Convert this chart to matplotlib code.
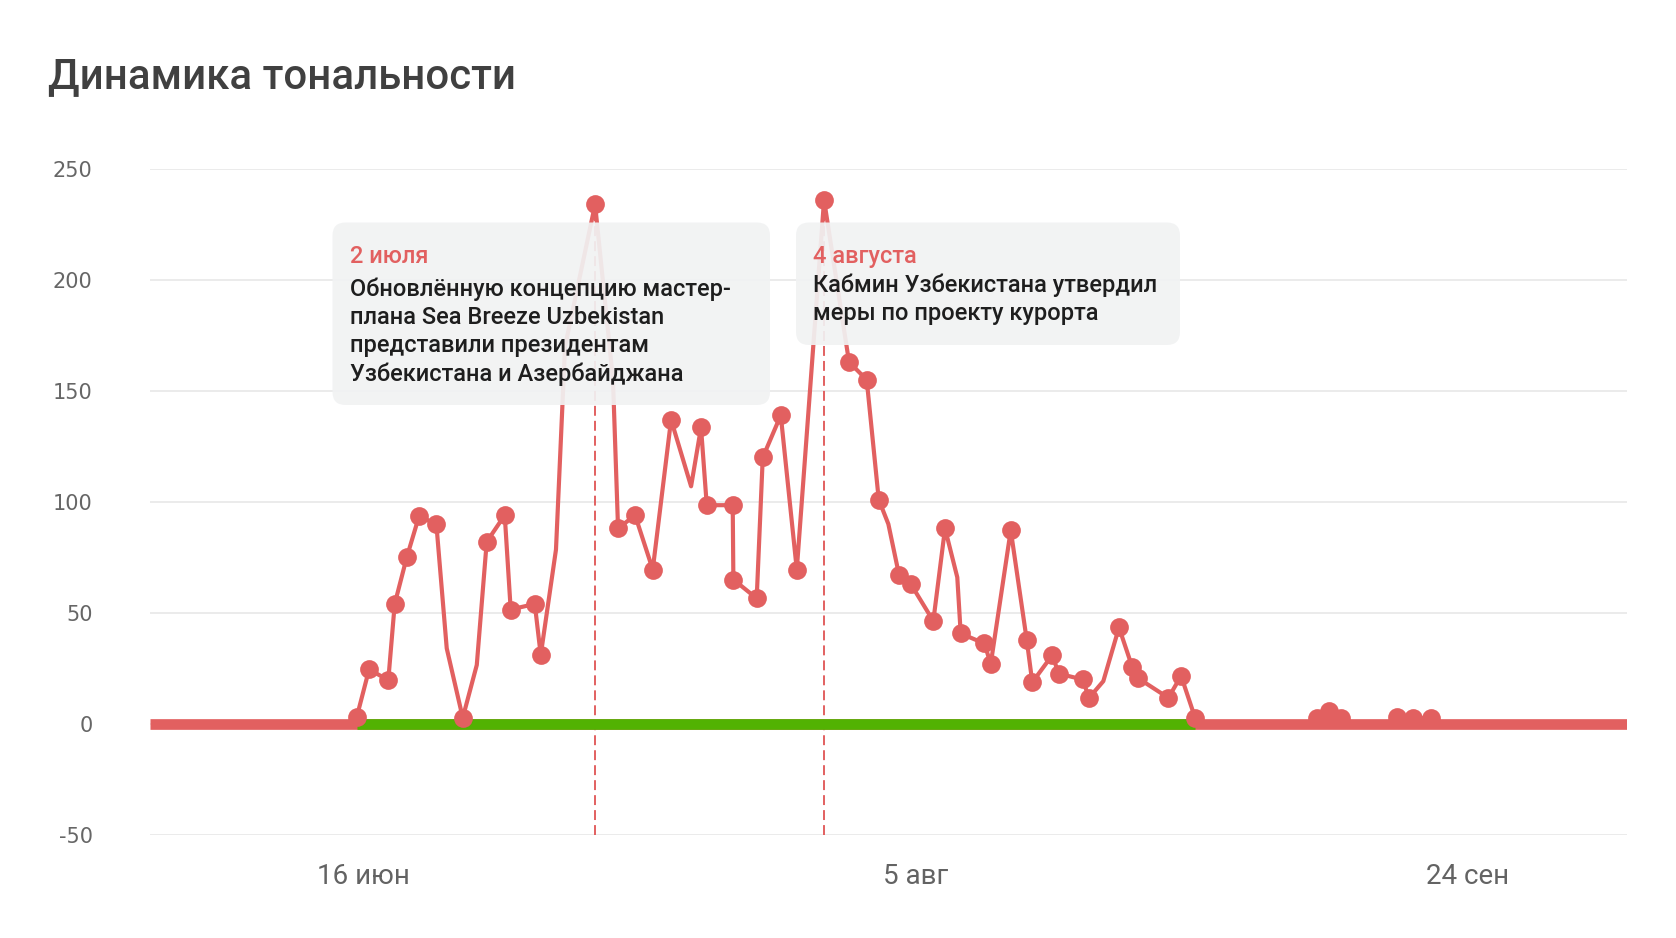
import matplotlib
matplotlib.use("Agg")
import matplotlib.pyplot as plt
from matplotlib.patches import FancyBboxPatch
from matplotlib.transforms import IdentityTransform

# ---------------- data ----------------
# x: days relative to 16 June (tick "16 июн" = 0, "5 авг" = 50, "24 сен" = 100)
days = [-0.59, 0.53, 2.27, 2.85, 3.94, 5.05, 6.62, 7.56, 9.01, 10.28,
        11.18, 12.81, 13.35, 15.53, 16.07, 17.45, 18.27, 20.99, 22.61, 23.07,
        24.61, 26.21, 27.87, 29.68, 30.58, 31.10, 33.45, 33.51, 35.62, 36.17,
        37.80, 39.25, 41.72, 43.98, 45.58, 46.67, 47.54, 48.51, 49.57, 51.61,
        52.67, 53.78, 54.09, 56.23, 56.81, 58.62, 60.07, 60.57, 62.39, 62.95,
        65.12, 65.71, 67.00, 68.42, 69.63, 70.10, 72.89, 74.04, 75.31, 76.21,
        85.35, 86.32, 87.41, 88.52, 89.50, 92.60, 93.56, 95.01, 96.64, 97.60]
values = [3, 24.5, 19.7, 54, 75, 93.5, 90, 34, 2.7, 26.5,
          82, 94, 51.5, 54, 31, 78.5, 170, 234, 155, 88,
          94, 69.5, 137, 107, 133.5, 98.5, 98.5, 65, 56.5, 120,
          139, 69.5, 236, 163, 155, 101, 90, 67, 63, 46.3,
          88, 66, 40.7, 36.2, 27, 87.2, 37.7, 18.7, 31, 22.6,
          20, 11.7, 19.2, 43.4, 25.4, 20.7, 11.7, 21.6, 2.7, 0,
          0, 2.5, 5.7, 2.5, 0, 0, 3, 2.5, 2.5, 0]
has_marker = [1, 1, 1, 1, 1, 1, 1, 0, 1, 0,
              1, 1, 1, 1, 1, 0, 0, 1, 0, 1,
              1, 1, 1, 0, 1, 1, 1, 1, 1, 1,
              1, 1, 1, 1, 1, 1, 0, 1, 1, 1,
              1, 0, 1, 1, 1, 1, 1, 1, 1, 1,
              1, 1, 0, 1, 1, 1, 1, 1, 1, 0,
              0, 1, 1, 1, 0, 0, 1, 1, 1, 0]

negative_span = [-19.34, 114.41]     # zero-level series over the whole period
positive_span = [-0.59, 75.31]       # zero-level positive series
zero_level = [0, 0]

event_days = [20.99, 41.72]
event_values = [234, 236]
event_dates = ["2 июля", "4 августа"]
event_texts = [
    ["Обновлённую концепцию мастер-", "плана Sea Breeze Uzbekistan",
     "представили президентам", "Узбекистана и Азербайджана"],
    ["Кабмин Узбекистана утвердил", "меры по проекту курорта"],
]

x_ticks = [0, 50, 100]
x_tick_labels = ["16 июн", "5 авг", "24 сен"]
y_ticks = [-50, 0, 50, 100, 150, 200, 250]

title = "Динамика тональности"

# ---------------- style ----------------
RED = "#E26060"
GREEN = "#52B202"
GRID = "#E6E6E6"

W, H = 1676, 938
fig = plt.figure(figsize=(W / 100, H / 100), dpi=100)
fig.patch.set_facecolor("white")

ax_left, ax_right, ax_top, ax_bottom = 149.6, 1627.0, 168.9, 834.8
ax = fig.add_axes([ax_left / W, (H - ax_bottom) / H,
                   (ax_right - ax_left) / W, (ax_bottom - ax_top) / H])
ax.set_xlim(negative_span[0], negative_span[1])
ax.set_ylim(-50, 250)

for s in ax.spines.values():
    s.set_visible(False)
ax.set_yticks(y_ticks)
ax.set_yticklabels([str(v) for v in y_ticks])
ax.set_xticks(x_ticks)
ax.set_xticklabels(x_tick_labels)
ax.tick_params(axis="y", length=0, pad=41, labelsize=15, labelcolor="#666666")
ax.tick_params(axis="x", length=0, pad=20, labelsize=20, labelcolor="#636363")
for lab in ax.get_yticklabels():
    lab.set_fontfamily("DejaVu Sans")
for lab in ax.get_xticklabels():
    lab.set_fontfamily("Roboto")
ax.grid(axis="y", color=GRID, lw=1.1, zorder=0)
ax.grid(axis="x", visible=False)
ax.set_axisbelow(True)

# zero-level series
ax.plot(negative_span, zero_level, color=RED, lw=7.7, solid_capstyle="butt", zorder=3)
ax.plot(positive_span, zero_level, color=GREEN, lw=7.7, solid_capstyle="butt", zorder=3.5)

# event lines
for ed, ev in zip(event_days, event_values):
    ax.plot([ed, ed], [-50, ev], color=RED, lw=1.4, ls=(0, (5.1, 2.6)), zorder=2)

# main series
ax.plot(days, values, color=RED, lw=3.0, solid_joinstyle="round", zorder=4)
mx = [d for d, m in zip(days, has_marker) if m]
my = [v for v, m in zip(values, has_marker) if m]
ax.plot(mx, my, "o", color=RED, ms=13.5, mew=0, zorder=5)

# title
t_title = fig.text(48 / W, 1 - 88 / H, title, fontsize=31, fontfamily="Roboto",
                   fontweight="medium", color="#404040", ha="left", va="baseline")

# annotation boxes (pixel coordinates, origin top-left converted)
ident = IdentityTransform()
boxes = [(332.5, 222.5, 770, 405), (796, 222.5, 1180, 345)]
text_x = [350, 813]
date_base = [263.3, 262.7]
body_base = [296, 291.7]
line_gap = 28.2

body_texts = []
for (x0, y0, x1, y1), tx, db, bb, dt, lines in zip(boxes, text_x, date_base,
                                                    body_base, event_dates, event_texts):
    p = FancyBboxPatch((x0, H - y1), x1 - x0, y1 - y0,
                       boxstyle="round,pad=0,rounding_size=13",
                       transform=ident, facecolor="#F1F2F3", edgecolor="none",
                       alpha=0.92, zorder=10)
    fig.patches.append(p)
    t = fig.text(tx, H - db, dt, transform=ident, fontsize=19, fontfamily="Roboto",
                 fontweight="medium", color=RED, ha="left", va="baseline", zorder=11)
    body_texts.append(t)
    for i, ln in enumerate(lines):
        t = fig.text(tx, H - (bb + i * line_gap), ln, transform=ident, fontsize=19,
                     fontfamily="Roboto", fontweight="medium", color="#1E1E1E",
                     ha="left", va="baseline", zorder=11)
        body_texts.append(t)

# fit sizes to measured widths
fig.canvas.draw()
r = fig.canvas.get_renderer()
ref = body_texts[1]  # "Обновлённую концепцию мастер-"
w = ref.get_window_extent(r).width
s = ref.get_fontsize() * 383 / w
for t in body_texts:
    t.set_fontsize(s)
w = t_title.get_window_extent(r).width
t_title.set_fontsize(t_title.get_fontsize() * 468 / w)

fig.savefig("out.png", dpi=100, facecolor="white")
